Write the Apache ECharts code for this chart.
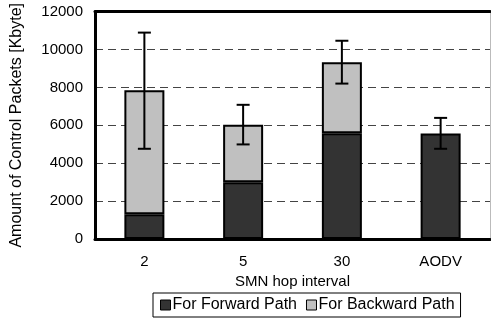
<!DOCTYPE html>
<html>
<head>
<meta charset="utf-8">
<script src="https://cdn.jsdelivr.net/npm/echarts@6/dist/echarts.min.js"></script>
<style>html,body{margin:0;padding:0;background:#fff}#c{width:491px;height:323px}</style>
</head>
<body>
<div id="c"></div>
<script>
var categories = ['2', '5', '30', 'AODV'];
var forwardPath = [1300, 3000, 5580, 5570];
var backwardPath = [6550, 3030, 3750, null];
var errLow = [4760, 4990, 8200, 4760];
var errHigh = [10890, 7080, 10460, 6390];
var yTicks = { min: 0, max: 12000, interval: 2000 };

var FONT = 'Liberation Sans';
var chart = echarts.init(document.getElementById('c'), null, { renderer: 'canvas' });
var errData = categories.map(function (c, i) { return [i, errLow[i], errHigh[i]]; });

chart.setOption({
  animation: false,
  backgroundColor: '#fff',
  textStyle: { fontFamily: FONT },
  grid: { left: 95, right: 1, top: 7, bottom: 84 },
  legend: {
    data: ['For Forward Path', 'For Backward Path'],
    left: 153, top: 293,
    orient: 'horizontal',
    icon: 'rect',
    itemWidth: 10, itemHeight: 10, itemGap: 9,
    borderColor: '#000', borderWidth: 1, borderRadius: 0,
    padding: [4, 6, 4, 7],
    itemStyle: { borderColor: '#000', borderWidth: 1 },
    textStyle: { fontFamily: FONT, fontSize: 16, color: '#000', padding: [0, 0, 0, -3] }
  },
  xAxis: [{
    type: 'category', data: categories,
    axisLine: { show: true, onZero: false, lineStyle: { color: '#000', width: 3 } },
    axisTick: { show: false },
    axisLabel: { fontFamily: FONT, fontSize: 15, color: '#000', margin: 15 },
    name: 'SMN hop interval', nameLocation: 'middle', nameGap: 32,
    nameTextStyle: { fontFamily: FONT, fontSize: 15, color: '#000' }
  }, {
    type: 'category', data: categories, position: 'top',
    axisLine: { show: true, onZero: false, lineStyle: { color: '#000', width: 3 } },
    axisTick: { show: false }, axisLabel: { show: false }
  }],
  yAxis: [{
    type: 'value', min: yTicks.min, max: yTicks.max, interval: yTicks.interval,
    axisLine: { show: true, onZero: false, lineStyle: { color: '#000', width: 3 } },
    axisTick: { show: false },
    axisLabel: { fontFamily: FONT, fontSize: 15, color: '#000', margin: 12,
      formatter: function (v) { return String(v); } },
    splitLine: { show: true, lineStyle: { color: '#444', width: 1, type: [8, 5] } },
    name: 'Amount of Control Packets [Kbyte]', nameLocation: 'middle', nameGap: 70,
    nameRotate: 90,
    nameTextStyle: { fontFamily: FONT, fontSize: 16, color: '#000' }
  }, {
    type: 'value', min: yTicks.min, max: yTicks.max, interval: yTicks.interval, position: 'right',
    axisLine: { show: true, onZero: false, lineStyle: { color: '#bbb', width: 1 } },
    axisTick: { show: false }, axisLabel: { show: false }, splitLine: { show: false }
  }],
  series: [{
    name: 'For Forward Path', type: 'bar', stack: 'total', barWidth: 40,
    data: forwardPath,
    itemStyle: { color: '#333333', borderColor: '#000', borderWidth: 2 }
  }, {
    name: 'For Backward Path', type: 'bar', stack: 'total', barWidth: 40,
    data: backwardPath,
    itemStyle: { color: '#c0c0c0', borderColor: '#000', borderWidth: 2 }
  }, {
    name: 'err', type: 'custom', z: 10,
    data: errData,
    encode: { x: 0, y: [1, 2] },
    renderItem: function (params, api) {
      var x = api.value(0);
      var lo = api.coord([x, api.value(1)]);
      var hi = api.coord([x, api.value(2)]);
      var cap = 6.5;
      var st = { stroke: '#000', lineWidth: 2 };
      return {
        type: 'group',
        children: [
          { type: 'line', shape: { x1: hi[0], y1: hi[1], x2: lo[0], y2: lo[1] }, style: st },
          { type: 'line', shape: { x1: hi[0] - cap, y1: hi[1], x2: hi[0] + cap, y2: hi[1] }, style: st },
          { type: 'line', shape: { x1: lo[0] - cap, y1: lo[1], x2: lo[0] + cap, y2: lo[1] }, style: st }
        ]
      };
    }
  }]
});
</script>
</body>
</html>
